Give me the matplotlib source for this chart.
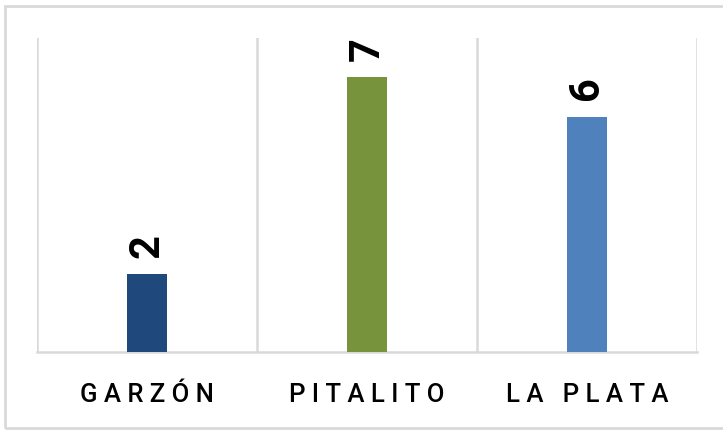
import matplotlib
matplotlib.use("Agg")
import matplotlib.pyplot as plt
from matplotlib.patches import Rectangle

categories = ["GARZÓN", "PITALITO", "LA PLATA"]
values = [2, 7, 6]
colors = ["#1F497D", "#77933C", "#4F81BD"]

W, H = 723, 430
fig = plt.figure(figsize=(W / 100, H / 100), dpi=100)
fig.patch.set_facecolor("white")

# outer chart border
fig.patches.append(Rectangle((5 / W, 2 / H), (W + 10) / W, (H - 8) / H,
                             transform=fig.transFigure, fill=False,
                             edgecolor="#D9D9D9", linewidth=2.0))

ax = fig.add_axes([37 / W, 78 / H, (697 - 37) / W, (352 - 38) / H])
x = list(range(len(categories)))
ax.bar(x, values, width=0.18, color=colors, zorder=3)
ax.set_xlim(-0.5, len(categories) - 0.5)
ax.set_ylim(0, 8)

for b in [i - 0.5 for i in range(len(categories) + 1)]:
    ax.axvline(b, color="#D9D9D9", linewidth=1.8, zorder=1)

for s in ["top", "left", "right"]:
    ax.spines[s].set_visible(False)
ax.spines["bottom"].set_color("#D9D9D9")
ax.spines["bottom"].set_linewidth(1.8)
ax.set_yticks([])
ax.set_xticks(x)
ax.set_xticklabels([" ".join(c) for c in categories], fontfamily="Roboto",
                   fontsize=18.5, fontweight="medium", color="#000000")
for lbl in ax.get_xticklabels()[:1]:
    lbl.set_x(lbl.get_position()[0])
ax.tick_params(axis="x", length=0, pad=22)

for xi, v in zip(x, values):
    ax.annotate(str(v), (xi, v), xytext=(0, 16), textcoords="offset pixels",
                rotation=90, ha="center", va="bottom", fontsize=30,
                fontweight="bold", fontfamily="Roboto", color="#000000")

fig.savefig("out.png", dpi=100, facecolor="white")
